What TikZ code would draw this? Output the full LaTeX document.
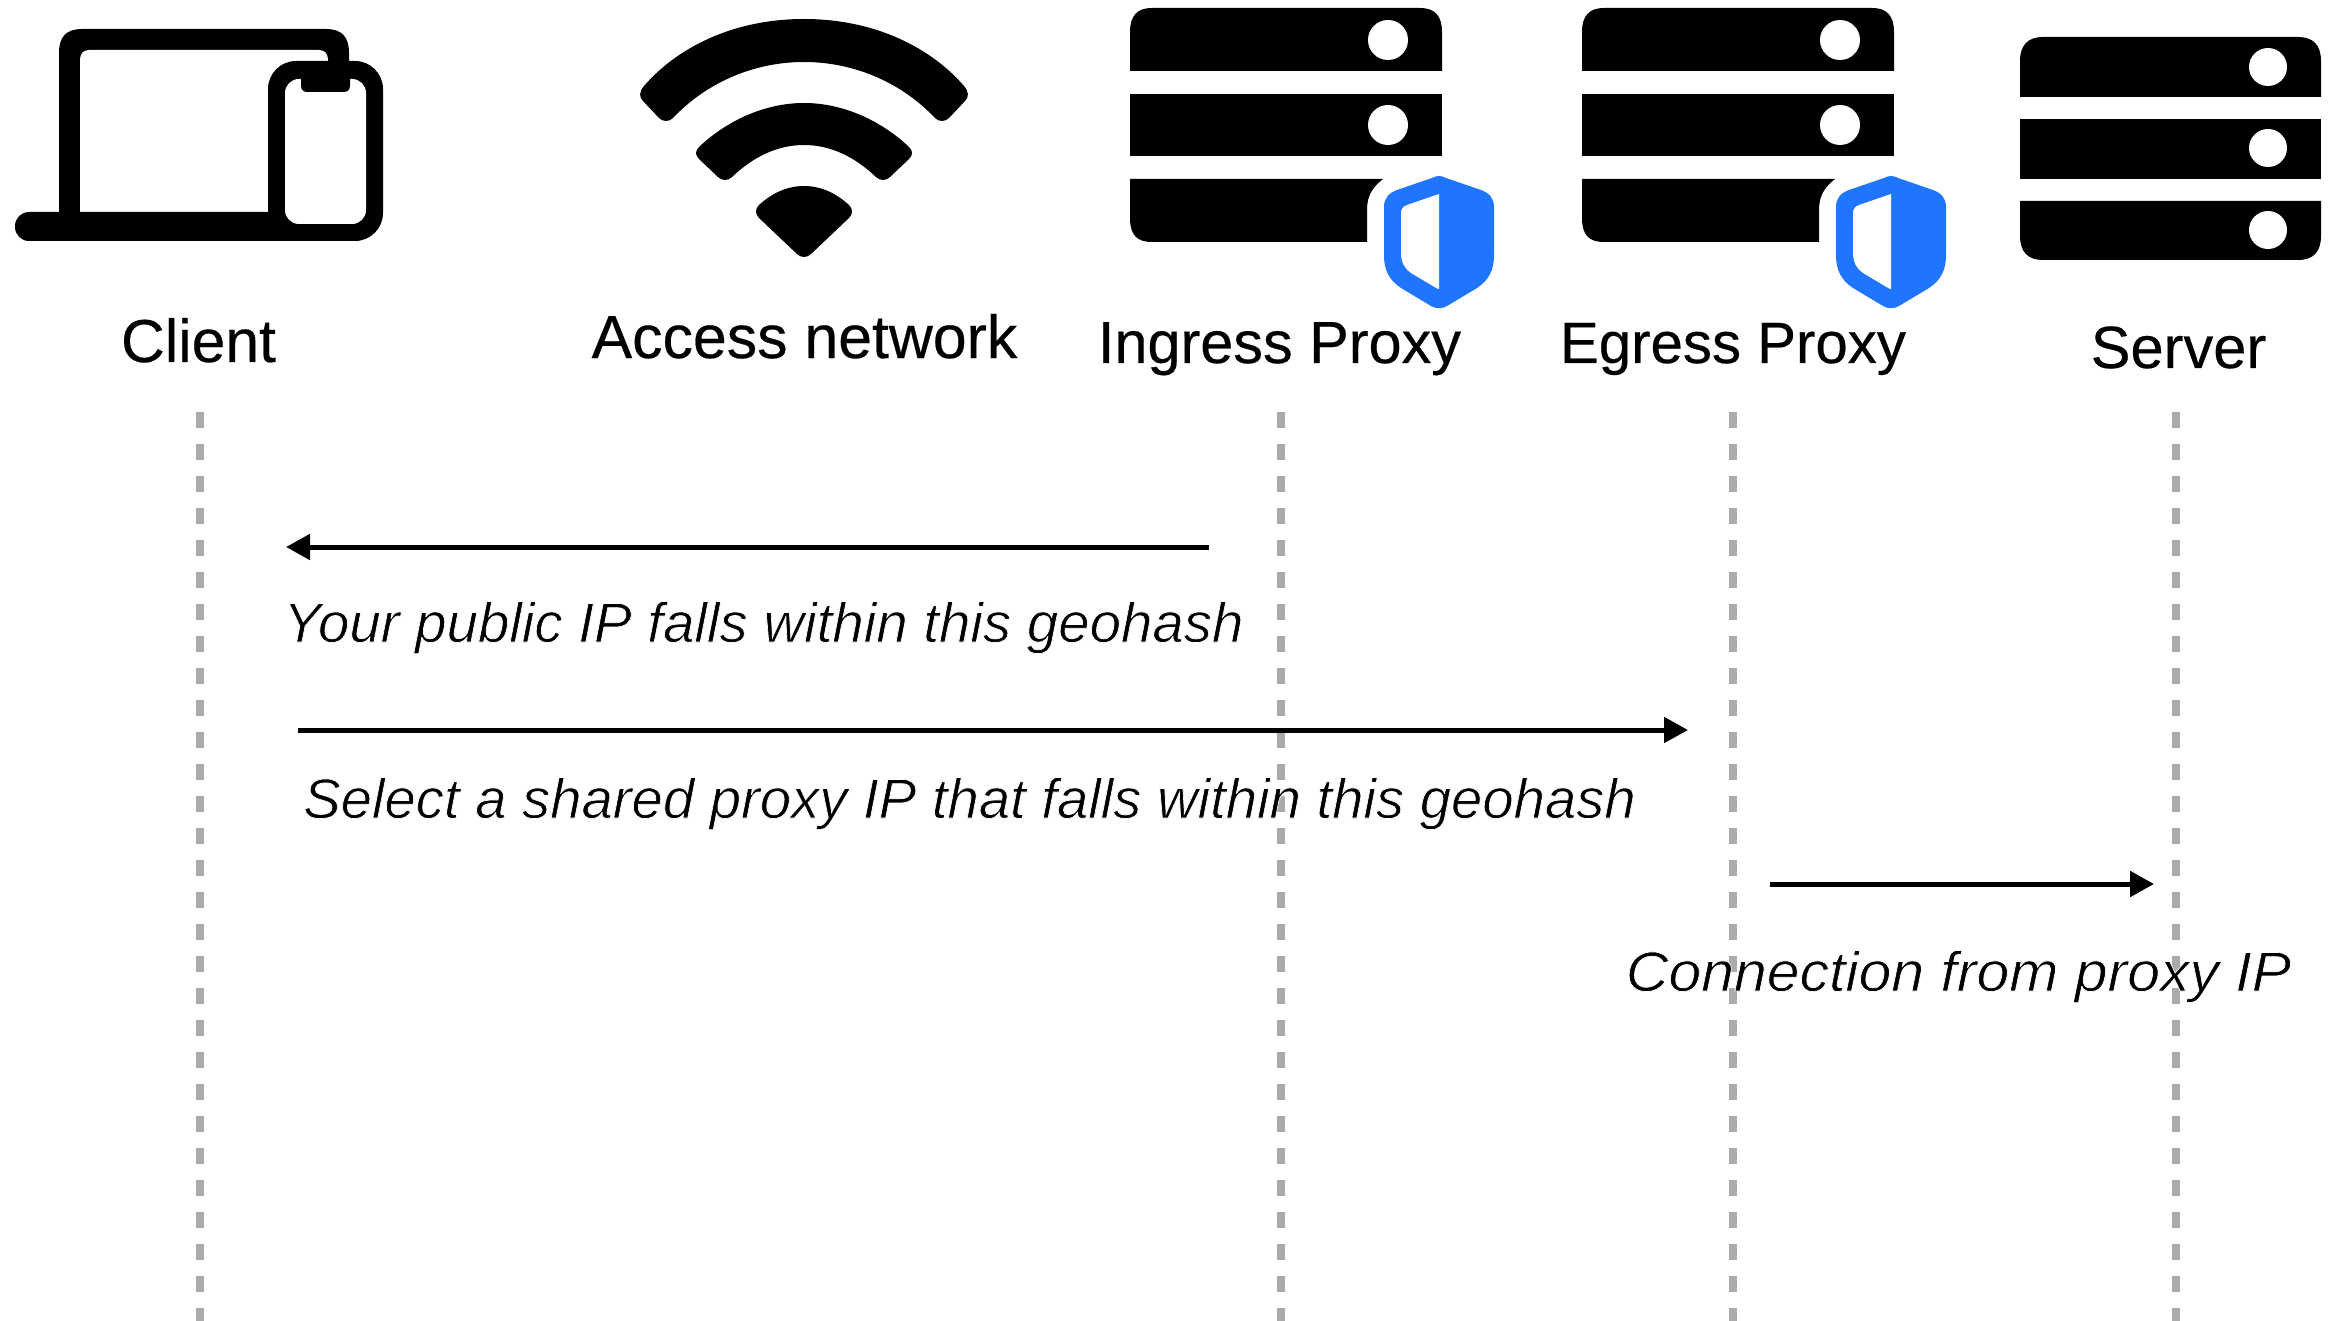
\documentclass[tikz,border=0pt]{standalone}
\usepackage{fontspec}
\setmainfont{Liberation Sans}
\newfontfamily\titlefont[FakeBold=0.35]{Liberation Sans}
\newcommand{\thintext}[1]{\special{pdf:code 2 Tr 0.35 w 1 1 1 RG}#1\special{pdf:code 0 Tr 0 0 0 RG}}
\usetikzlibrary{arrows.meta}
\definecolor{lifegray}{HTML}{ABABAB}
\definecolor{shieldblue}{HTML}{2075FF}
\tikzset{
  title/.style={anchor=base,inner sep=0pt,text=black},
  msg/.style={anchor=base,inner sep=0pt,font=\fontsize{28pt}{33pt}\selectfont\itshape,text=black},
  lifeline/.style={draw=lifegray,line width=4pt,dash pattern=on 8pt off 8pt},
  msgarrow/.style={draw=black,line width=2.5pt,-{Triangle[length=12pt,width=12.5pt]}},
  proxyicon/.pic={
    \fill[black] (1130,71) -- (1130,32) .. controls (1130,16) and (1137,8) .. (1152,8) -- (1420,8) .. controls (1435,8) and (1442,16) .. (1442,32) -- (1442,71) -- cycle;
    \fill[black] (1130,94) rectangle (1442,156);
    \fill[black] (1130,179) -- (1383,179) .. controls (1373,187) and (1367,195) .. (1367,210) -- (1367,242) -- (1152,242) .. controls (1137,242) and (1130,235) .. (1130,218) -- cycle;
    \fill[white] (1388,40) circle[radius=20];
    \fill[white] (1388,125) circle[radius=20];
    \begin{scope}[shift={(1439,0)}]
      \fill[shieldblue] (0,176) .. controls (3,176) and (5,177) .. (7,178) -- (42,190) .. controls (50,193) and (55,198) .. (55,207) -- (55,255) .. controls (55,270) and (50,280) .. (38,288) -- (8,306) .. controls (3,309) and (-3,309) .. (-8,306) -- (-38,288) .. controls (-50,280) and (-55,270) .. (-55,255) -- (-55,207) .. controls (-55,198) and (-50,193) .. (-42,190) -- (-7,178) .. controls (-5,177) and (-3,176) .. (0,176) -- cycle;
      \fill[white] (0,194) -- (-32,205) .. controls (-36,206.5) and (-38,209) .. (-38,213) -- (-38,252) .. controls (-38,262) and (-35,268) .. (-28,273) -- (-2,288.5) -- (0,289) -- cycle;
    \end{scope}
  }
}
\begin{document}
\begin{tikzpicture}[x=0.5pt,y=-0.5pt]
\useasboundingbox (0,0) rectangle (2336,1321);
\fill[white] (0,0) rectangle (2336,1321);

% lifelines
\coordinate (l1t) at (199.5,412);  \coordinate (l1b) at (199.5,1321);
\coordinate (l2t) at (1280.5,412); \coordinate (l2b) at (1280.5,1321);
\coordinate (l3t) at (1733,412); \coordinate (l3b) at (1733,1321);
\coordinate (l4t) at (2176,412); \coordinate (l4b) at (2176,1321);
\draw[lifeline] (l1t) -- (l1b);
\draw[lifeline] (l2t) -- (l2b);
\draw[lifeline] (l3t) -- (l3b);
\draw[lifeline] (l4t) -- (l4b);

% laptop + phone
\fill[black] (59,215) -- (59,53) .. controls (59,37) and (66,29) .. (82,29) -- (326,29) .. controls (342,29) and (349,37) .. (349,53) -- (349,80) -- (330,215) -- cycle;
\fill[white] (80,212) -- (80,60) .. controls (80,54) and (83,50) .. (89,50) -- (319,50) .. controls (325,50) and (328,54) .. (328,60) -- (328,212) -- cycle;
\fill[black,rounded corners=7pt] (15,212) rectangle (350,241);
\fill[black,rounded corners=14pt] (268,61) rectangle (383,241);
\fill[white,rounded corners=7pt] (285,79) rectangle (366,224);
\fill[black] (301,70) -- (301,85) .. controls (301,90) and (303,92) .. (308,92) -- (343,92) .. controls (348,92) and (350,90) .. (350,85) -- (350,70) -- cycle;

% wifi
\fill[black] (804,19) .. controls (730,19) and (675,50) .. (644,86) .. controls (639,92) and (639,97) .. (643,101) -- (659,118) .. controls (663,122) and (669,122) .. (673,118) .. controls (705,84) and (752,62) .. (804,62) .. controls (856,62) and (903,84) .. (935,118) .. controls (939,122) and (945,122) .. (949,118) -- (965,101) .. controls (969,97) and (969,92) .. (964,86) .. controls (933,50) and (878,19) .. (804,19) -- cycle;
\fill[black] (804,103) .. controls (760,103) and (722,125) .. (699,147) .. controls (695,151) and (695,155) .. (699,159) -- (718,177) .. controls (722,181) and (728,181) .. (732,177) .. controls (752,158) and (776,145) .. (804,145) .. controls (832,145) and (856,158) .. (876,177) .. controls (880,181) and (886,181) .. (890,177) -- (909,159) .. controls (913,155) and (913,151) .. (909,147) .. controls (886,125) and (848,103) .. (804,103) -- cycle;
\fill[black] (804,186) .. controls (785,186) and (770,195) .. (759,205) .. controls (755,209) and (755,214) .. (759,218) -- (797,254) .. controls (801,258) and (807,258) .. (811,254) -- (849,218) .. controls (853,214) and (853,209) .. (849,205) .. controls (838,195) and (823,186) .. (804,186) -- cycle;

% proxies
\pic at (0,0) {proxyicon};
\pic at (452,0) {proxyicon};

% origin server
\fill[black] (2020,97) -- (2020,61) .. controls (2020,45) and (2028,37) .. (2043,37) -- (2298,37) .. controls (2313,37) and (2321,45) .. (2321,61) -- (2321,97) -- cycle;
\fill[black] (2020,119) rectangle (2321,179);
\fill[black] (2020,201) -- (2321,201) -- (2321,236) .. controls (2321,252) and (2313,260) .. (2298,260) -- (2043,260) .. controls (2028,260) and (2020,252) .. (2020,236) -- cycle;
\fill[white] (2268,67) circle[radius=19];
\fill[white] (2268,148) circle[radius=19];
\fill[white] (2268,230) circle[radius=19];

% titles
\node[title,font=\titlefont\fontsize{30.3pt}{36pt}\selectfont] (client) at (198.5,362) {Client};
\node[title,font=\titlefont\fontsize{30.4pt}{36pt}\selectfont] (access) at (804.5,358) {Access network};
\node[title,font=\titlefont\fontsize{29.7pt}{36pt}\selectfont] (ingress) at (1279.5,363) {Ingress Proxy};
\node[title,font=\titlefont\fontsize{29.1pt}{36pt}\selectfont] (egress) at (1733,363) {Egress Proxy};
\node[title,font=\titlefont\fontsize{29.8pt}{36pt}\selectfont] (server) at (2178.5,368) {Server};

% messages
\coordinate (a1s) at (1209,547); \coordinate (a1e) at (286,547);
\coordinate (a2s) at (298,730);  \coordinate (a2e) at (1688,730);
\coordinate (a3s) at (1770,884); \coordinate (a3e) at (2154,884);
\draw[msgarrow] (a1s) -- (a1e);
\draw[msgarrow] (a2s) -- (a2e);
\draw[msgarrow] (a3s) -- (a3e);
\node[msg] (m1) at (763.5,642) {\scalebox{1.008}[1]{\thintext{Your public IP falls within this geohash}}};
\node[msg] (m2) at (969.5,818) {\scalebox{1.005}[1]{\thintext{Select a shared proxy IP that falls within this geohash}}};
\node[msg] (m3) at (1958.5,991) {\scalebox{1.053}[1]{\thintext{Connection from proxy IP}}};
\end{tikzpicture}
\end{document}
